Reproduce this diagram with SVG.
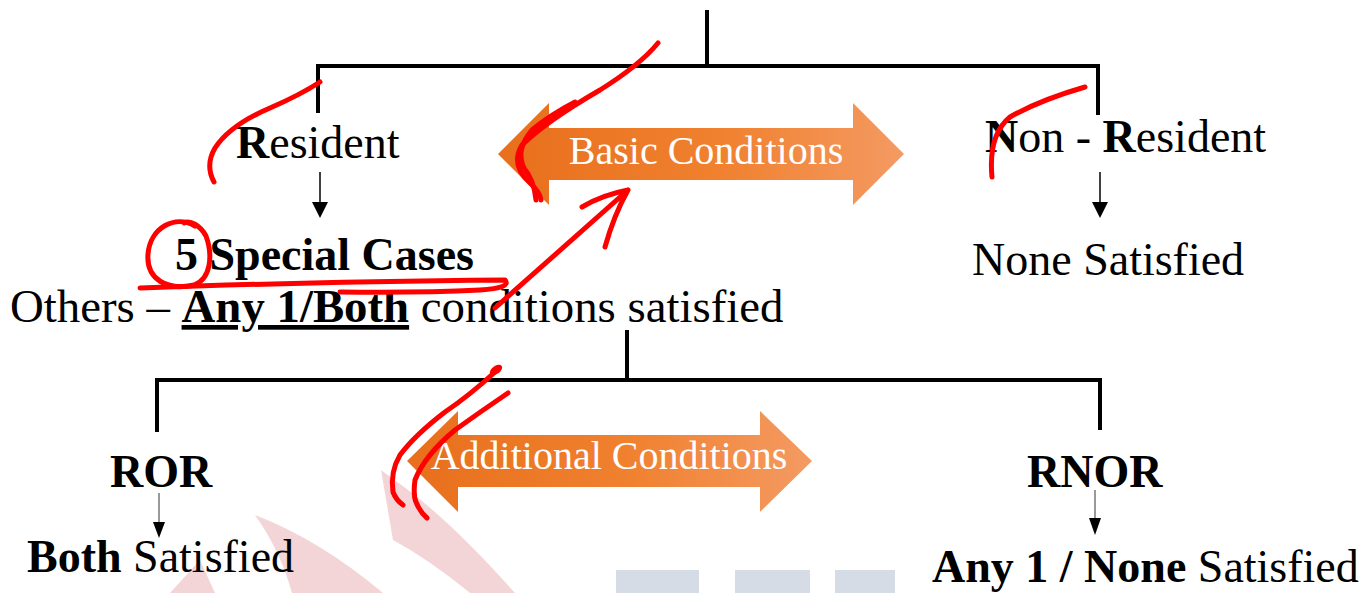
<svg xmlns="http://www.w3.org/2000/svg" width="1369" height="593" viewBox="0 0 1369 593">
<style>
.t{font-family:"Liberation Serif","Times New Roman",serif;font-size:46px;fill:#000}
.b{font-weight:bold}
.w{font-family:"Liberation Serif","Times New Roman",serif;font-size:40px;fill:#fff}
.br{stroke:#000;stroke-width:4;fill:none}
.ln{stroke:#000;stroke-width:1.5;fill:none}
.red{stroke:#ff0000;stroke-width:5;fill:none;stroke-linecap:round;stroke-linejoin:round}
.wm1{fill:#f3d5d7}
.wm2{fill:#d5dce6}
</style>
<defs>
<linearGradient id="og" x1="0" y1="0" x2="1" y2="0">
<stop offset="0" stop-color="#e86f1c"/>
<stop offset="0.55" stop-color="#f0812f"/>
<stop offset="1" stop-color="#f49a63"/>
</linearGradient>
</defs>
<g id="watermark">
<path class="wm1" d="M255,515 Q320,540 383,593 L292,593 Q280,550 255,515 z"/>
<path class="wm1" d="M170,593 L200,560 L215,593 z"/>
<path class="wm1" d="M381,470 L400,484 Q450,520 515,593 L470,593 Q430,560 393,540 z"/>
<rect class="wm2" x="616" y="570" width="83" height="23"/>
<rect class="wm2" x="735" y="570" width="75" height="23"/>
<rect class="wm2" x="835" y="570" width="60" height="23"/>
</g>
<g id="connectors">
<path class="br" d="M707,10 V68 M318,113 V66 H1098 V115"/>
<path class="br" d="M627,330 V380 M157,432 V380 H1100 V430"/>
<line class="ln" x1="320" y1="172" x2="320" y2="202"/>
<path d="M312,202 L328,202 L320,218 z" fill="#000"/>
<line class="ln" x1="1100" y1="172" x2="1100" y2="202"/>
<path d="M1092,202 L1108,202 L1100,218 z" fill="#000"/>
<line x1="159" y1="493" x2="159" y2="524" stroke="#555" stroke-width="1.2"/>
<path d="M153,522 L165,522 L159,538 z" fill="#000"/>
<line x1="1095" y1="490" x2="1095" y2="520" stroke="#555" stroke-width="1.2"/>
<path d="M1089,518 L1101,518 L1095,535 z" fill="#000"/>
</g>
<g id="basic-conditions">
<polygon points="498,154 549,103 549,128 853,128 853,103 904,154 853,205 853,180 549,180 549,205" fill="url(#og)"/>
<text class="w" x="706" y="164" text-anchor="middle">Basic Conditions</text>
</g>
<g id="additional-conditions">
<polygon points="407,461 458,411 458,435 760,435 760,411 812,461 760,512 760,487 458,487 458,512" fill="url(#og)"/>
<text class="w" x="609" y="469" text-anchor="middle">Additional Conditions</text>
</g>
<g id="resident">
<text class="t" x="236" y="158"><tspan class="b">R</tspan>esident</text>
</g>
<g id="special-cases">
<text class="t b" x="175" y="270">5 Special Cases</text>
</g>
<g id="others">
<text class="t" x="10" y="322" style="font-size:46.8px">Others – <tspan class="b" text-decoration="underline">Any 1/Both</tspan> conditions satisfied</text>
</g>
<g id="non-resident">
<text class="t" x="985" y="152"><tspan class="b">N</tspan>on - <tspan class="b">R</tspan>esident</text>
</g>
<g id="none-satisfied">
<text class="t" x="972" y="275">None Satisfied</text>
</g>
<g id="ror">
<text class="t b" x="110" y="487">ROR</text>
</g>
<g id="both-satisfied">
<text class="t" x="27" y="572"><tspan class="b">Both</tspan> Satisfied</text>
</g>
<g id="rnor">
<text class="t b" x="1027" y="487">RNOR</text>
</g>
<g id="any-none-satisfied">
<text class="t" x="932" y="582"><tspan class="b">Any 1 / None</tspan> Satisfied</text>
</g>
<g id="annotations">
<path class="red" d="M320,82 Q300,95 270,108 Q230,125 215,148 Q205,165 214,182"/>
<path class="red" d="M658,43 Q640,65 600,90 Q545,122 522,145 Q510,165 530,183 Q540,192 541,200"/>
<path class="red" d="M536,200 Q534,180 524,168 Q515,150 532,130 Q550,115 575,102"/>
<path class="red" d="M1085,87 Q1040,100 1010,117 Q988,135 992,177"/>
<path class="red" d="M195,226 C175,214 150,228 148,254 C146,280 168,291 194,285 C211,279 213,255 206,236 C200,225 190,220 184,223"/>
<path class="red" d="M140,288 Q300,282 505,280 Q512,288 480,290 Q420,293 340,292"/>
<path class="red" d="M495,308 L628,190 M582,207 Q602,195 628,190 Q614,215 605,247"/>
<path class="red" d="M495,372 Q470,395 445,412 Q415,435 400,455 Q390,472 393,492 Q396,500 403,505"/>
<path class="red" d="M508,393 Q480,412 455,430 Q425,455 415,480 Q413,495 416,502 Q420,512 427,518"/>
<ellipse cx="496" cy="370" rx="7" ry="4" transform="rotate(-35 496 370)" fill="#ff0000"/>
</g>
</svg>
